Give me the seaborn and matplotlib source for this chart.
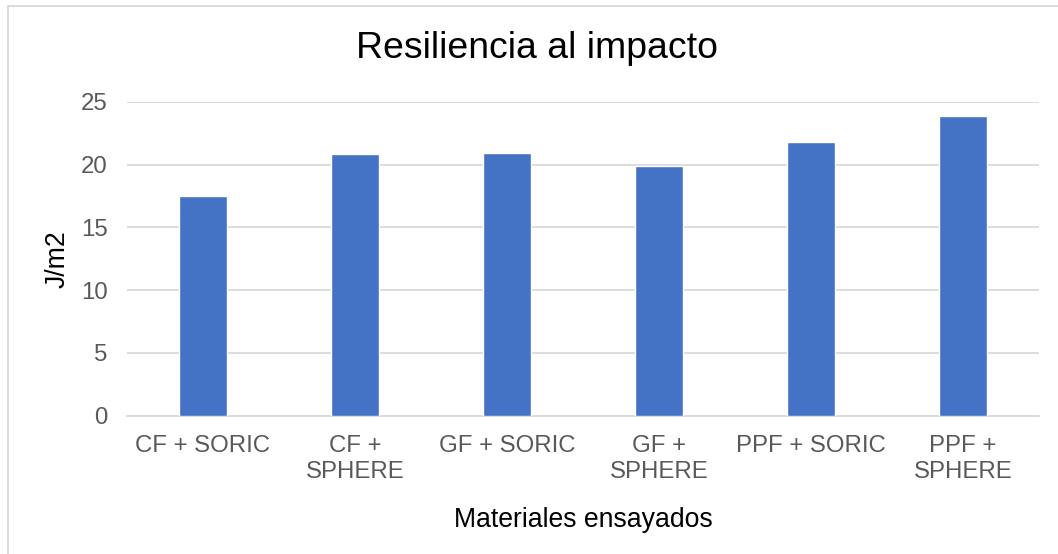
import matplotlib
matplotlib.use("Agg")
import matplotlib.pyplot as plt
import seaborn as sns
import pandas as pd
from matplotlib.patches import Rectangle

# Data
materiales = ["CF + SORIC", "CF +\nSPHERE", "GF + SORIC", "GF +\nSPHERE", "PPF + SORIC", "PPF +\nSPHERE"]
resiliencia = [17.5, 20.8, 20.9, 19.9, 21.8, 23.9]
y_ticks = [0, 5, 10, 15, 20, 25]

df = pd.DataFrame({"material": materiales, "valor": resiliencia})

sns.set_theme(style="white")
plt.rcParams["font.family"] = ["Liberation Sans", "DejaVu Sans"]

fig = plt.figure(figsize=(10.58, 5.54), dpi=100)
ax = fig.add_axes([0.12, 0.2496, 0.862, 0.5668])

sns.barplot(data=df, x="material", y="valor", color="#4472C4", width=0.31,
            saturation=1, ax=ax, zorder=3)

ax.set_ylim(0, 25)
ax.set_yticks(y_ticks)
ax.set_xlim(-0.5, len(materiales) - 0.5)
ax.yaxis.grid(True, color="#d9d9d9", linewidth=1.3, zorder=0)
ax.xaxis.grid(False)
for side in ["top", "right", "left"]:
    ax.spines[side].set_visible(False)
ax.spines["bottom"].set_color("#d9d9d9")
ax.spines["bottom"].set_linewidth(1.3)
ax.tick_params(axis="both", length=0, labelsize=17.3, colors="#595959")
ax.tick_params(axis="x", pad=14)
ax.tick_params(axis="y", pad=14)
for lab in ax.get_xticklabels():
    lab.set_linespacing(1.24)

ax.set_xlabel("Materiales ensayados", fontsize=19.2, color="#000000", labelpad=17)
ax.set_ylabel("J/m2", fontsize=19.2, color="#000000", labelpad=7)
fig.text(0.508, 1 - 48 / 554, "Resiliencia al impacto", fontsize=26.9,
         color="#000000", ha="center", va="center")

# Chart area frame
fig.patches.append(Rectangle((7.5 / 1058, -0.1), 1.2, 1 - 5.5 / 554 + 0.1,
                             transform=fig.transFigure, fill=False,
                             edgecolor="#d9d9d9", linewidth=1.3))

fig.savefig("out.png", dpi=100)
